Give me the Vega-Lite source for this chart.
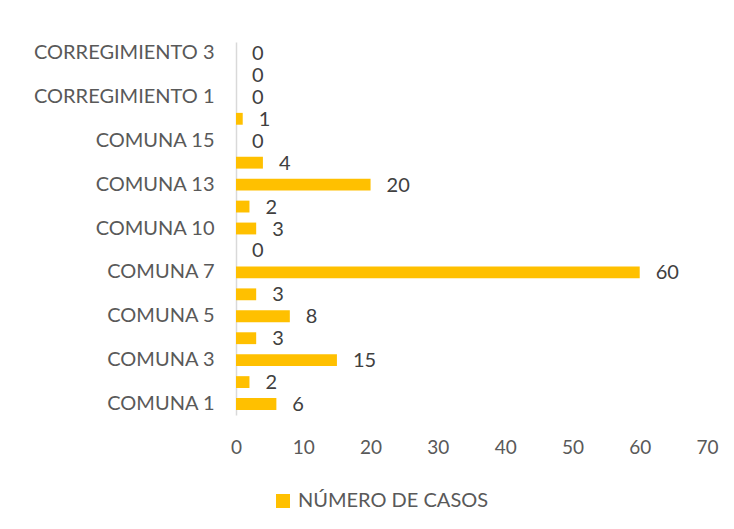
{
  "$schema": "https://vega.github.io/schema/vega-lite/v6.json",
  "autosize": "none",
  "width": 471,
  "height": 373,
  "padding": {"left": 236, "top": 42, "right": 27, "bottom": 114},
  "background": "white",
  "config": {
    "view": {"stroke": null},
    "font": "Lato"
  },
  "data": {
    "values": [
      {"zona": "COMUNA 1", "casos": 6, "serie": "NÚMERO DE CASOS"},
      {"zona": "COMUNA 2", "casos": 2, "serie": "NÚMERO DE CASOS"},
      {"zona": "COMUNA 3", "casos": 15, "serie": "NÚMERO DE CASOS"},
      {"zona": "COMUNA 4", "casos": 3, "serie": "NÚMERO DE CASOS"},
      {"zona": "COMUNA 5", "casos": 8, "serie": "NÚMERO DE CASOS"},
      {"zona": "COMUNA 6", "casos": 3, "serie": "NÚMERO DE CASOS"},
      {"zona": "COMUNA 7", "casos": 60, "serie": "NÚMERO DE CASOS"},
      {"zona": "COMUNA 8", "casos": 0, "serie": "NÚMERO DE CASOS"},
      {"zona": "COMUNA 10", "casos": 3, "serie": "NÚMERO DE CASOS"},
      {"zona": "COMUNA 12", "casos": 2, "serie": "NÚMERO DE CASOS"},
      {"zona": "COMUNA 13", "casos": 20, "serie": "NÚMERO DE CASOS"},
      {"zona": "COMUNA 14", "casos": 4, "serie": "NÚMERO DE CASOS"},
      {"zona": "COMUNA 15", "casos": 0, "serie": "NÚMERO DE CASOS"},
      {"zona": "COMUNA 16", "casos": 1, "serie": "NÚMERO DE CASOS"},
      {"zona": "CORREGIMIENTO 1", "casos": 0, "serie": "NÚMERO DE CASOS"},
      {"zona": "CORREGIMIENTO 2", "casos": 0, "serie": "NÚMERO DE CASOS"},
      {"zona": "CORREGIMIENTO 3", "casos": 0, "serie": "NÚMERO DE CASOS"}
    ]
  },
  "encoding": {
    "y": {
      "field": "zona",
      "type": "nominal",
      "sort": ["CORREGIMIENTO 3", "CORREGIMIENTO 2", "CORREGIMIENTO 1", "COMUNA 16", "COMUNA 15", "COMUNA 14", "COMUNA 13", "COMUNA 12", "COMUNA 10", "COMUNA 8", "COMUNA 7", "COMUNA 6", "COMUNA 5", "COMUNA 4", "COMUNA 3", "COMUNA 2", "COMUNA 1"],
      "scale": {"paddingInner": 0.46, "paddingOuter": 0.23},
      "axis": {
        "title": null,
        "ticks": false,
        "grid": false,
        "domainColor": "#d9d9d9",
        "domainWidth": 1.5,
        "labelPadding": 22,
        "labelFontSize": 20,
        "labelColor": "#595959",
        "labelLimit": 300,
        "labelExpr": "indexof(['COMUNA 1','COMUNA 3','COMUNA 5','COMUNA 7','COMUNA 10','COMUNA 13','COMUNA 15','CORREGIMIENTO 1','CORREGIMIENTO 3'], datum.value) >= 0 ? datum.label : ''"
      }
    },
    "x": {
      "field": "casos",
      "type": "quantitative",
      "scale": {"domain": [0, 70], "nice": false},
      "axis": {
        "title": null,
        "values": [0, 10, 20, 30, 40, 50, 60, 70],
        "domain": false,
        "ticks": false,
        "grid": false,
        "labelFlush": false,
        "labelPadding": 23,
        "labelFontSize": 19,
        "labelColor": "#595959"
      }
    }
  },
  "layer": [
    {
      "mark": {"type": "bar"},
      "encoding": {
        "color": {
          "field": "serie",
          "type": "nominal",
          "scale": {"range": ["#FFC000"]},
          "legend": {
            "title": null,
            "orient": "none",
            "legendX": 37,
            "legendY": 449,
            "symbolType": "square",
            "symbolSize": 196,
            "symbolStrokeWidth": 0,
            "labelFontSize": 20,
            "labelColor": "#595959",
            "labelLimit": 400,
            "labelOffset": 5
          }
        }
      }
    },
    {
      "mark": {"type": "text", "align": "left", "baseline": "middle", "dx": 16, "dy": 1, "fontSize": 20, "color": "#404040"},
      "encoding": {
        "text": {"field": "casos", "type": "quantitative"}
      }
    }
  ]
}
